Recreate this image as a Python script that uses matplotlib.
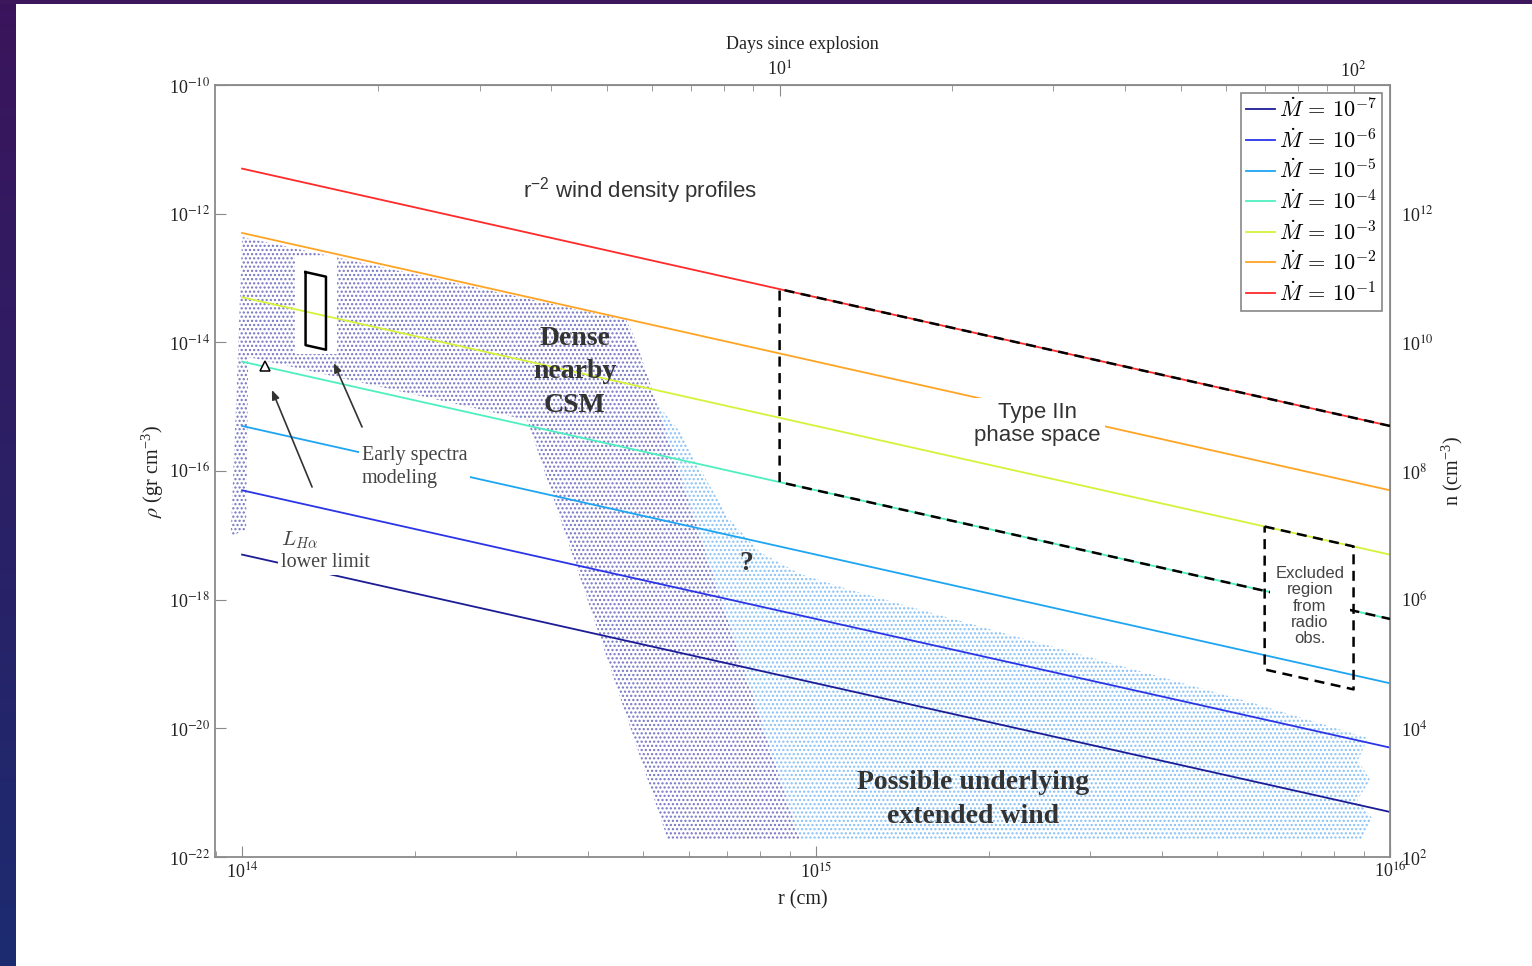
import numpy as np
import matplotlib
matplotlib.use("Agg")
import matplotlib.pyplot as plt
from matplotlib.ticker import FixedLocator, FuncFormatter, LogLocator, NullFormatter
from matplotlib.patches import Polygon

plt.rcParams["font.family"] = "serif"
plt.rcParams["font.serif"] = ["Liberation Serif", "DejaVu Serif"]
plt.rcParams["mathtext.fontset"] = "stix"
plt.rcParams["hatch.linewidth"] = 1.05

MSUN = 1.989e33
YEAR = 3.156e7
V_WIND = 1e7      # 100 km/s wind
V_EJ = 1e9        # 10^4 km/s ejecta, converts r to days
DAY = 86400.0
N_PER_RHO = 1e24  # n = rho / m_p (rounded)

# mass-loss rates (Msun/yr) of the r^-2 wind profiles
mdot = [1e-7, 1e-6, 1e-5, 1e-4, 1e-3, 1e-2, 1e-1]
mdot_exp = [-7, -6, -5, -4, -3, -2, -1]
line_colors = ["#1c1c96", "#2b35e6", "#1ea5f2", "#4ef0bf", "#d6f23a", "#ffa424", "#ff2a2a"]

# dense nearby CSM region (r [cm], rho [g cm^-3])
csm_r = [1.00e14, 4.67e14, 4.85e14, 9.38e14, 5.52e14, 3.14e14, 1.025e14, 1.016e14, 9.55e13, 9.77e13]
csm_rho = [4.34e-13, 2.22e-14, 1.09e-14, 1.84e-22, 1.84e-22, 6.19e-16, 5.92e-15, 1.21e-17, 9.75e-18, 1.27e-15]

# possible underlying extended wind region
wind_r = [5.22e14, 5.79e14, 6.41e14, 7.08e14, 7.98e14, 9.38e14, 1.15e15, 1.71e15, 2.56e15,
          3.82e15, 5.70e15, 9.16e15, 8.79e15, 9.23e15, 8.77e15, 9.31e15, 8.93e15, 9.38e14]
wind_rho = [1.27e-15, 4.04e-16, 7.78e-17, 1.73e-17, 5.51e-18, 2.51e-18, 1.41e-18, 5.19e-19, 1.90e-19,
            6.98e-20, 2.56e-20, 7.06e-21, 3.21e-21, 1.57e-21, 7.67e-22, 4.03e-22, 1.84e-22, 1.84e-22]

# early spectra modeling constraint: r range and mdot range
spec_r = [1.29e14, 1.40e14]
spec_mdot = [3.0e-4, 4.1e-3]
spec_clear_r = [1.237e14, 1.464e14]
spec_clear_rho = [6.58e-15, 2.12e-13]

# L_Halpha lower limit point
lha_r = [1.097e14]
lha_rho = [4.3e-15]

# Type IIn phase space: from day 10 onward, mdot 1e-4 .. 1e-1
iin_day = 10
iin_mdot = [1e-4, 1e-1]

# radio excluded region: days 70..100, mdot 6e-6 .. 1e-3
radio_days = [70, 100]
radio_mdot = [6e-6, 1e-3]

# tick values
rho_ticks = [1e-22, 1e-20, 1e-18, 1e-16, 1e-14, 1e-12, 1e-10]
n_ticks = [1e2, 1e4, 1e6, 1e8, 1e10, 1e12]
day_ticks = [10, 100]
day_minor = [2, 3, 4, 5, 6, 7, 8, 9, 20, 30, 40, 50, 60, 70, 80, 90]


def wind_density(md, r):
    return md * MSUN / YEAR / (4 * np.pi * r ** 2 * V_WIND)


def pow10(v, pos=None):
    return "10$^{%d}$" % int(round(np.log10(v)))


W, H = 1532, 966
fig = plt.figure(figsize=(W / 100, H / 100), dpi=100)
fig.patch.set_facecolor("white")

# slide frame behind the figure
bg = fig.add_axes([0, 0, 16 / W, 1])
grad = np.linspace(0, 1, 256)[:, None, None]
top_c = np.array([0.23, 0.08, 0.36])
bot_c = np.array([0.11, 0.17, 0.44])
bg.imshow(top_c * (1 - grad) + bot_c * grad, aspect="auto", extent=[0, 1, 0, 1])
bg.axis("off")
topbar = fig.add_axes([0, 1 - 4 / H, 1, 4 / H])
topbar.set_facecolor((0.24, 0.09, 0.36))
topbar.set_xticks([])
topbar.set_yticks([])
for s in topbar.spines.values():
    s.set_visible(False)

ax = fig.add_axes([215 / W, 1 - 857 / H, 1175 / W, 772 / H])
ax.set_xscale("log")
ax.set_yscale("log")
ax.set_xlim(8.97e13, 1e16)
ax.set_ylim(1e-22, 1e-10)

# stippled regions
ax.add_patch(Polygon(np.column_stack([wind_r, wind_rho]), closed=True, facecolor="white",
                     edgecolor="#86c0f6", lw=0, hatch="....", zorder=1))
ax.add_patch(Polygon(np.column_stack([csm_r, csm_rho]), closed=True, facecolor="white",
                     edgecolor="#7474c6", lw=0, hatch="....", zorder=1.1))
ax.fill([spec_clear_r[0], spec_clear_r[1], spec_clear_r[1], spec_clear_r[0]],
        [spec_clear_rho[0], spec_clear_rho[0], spec_clear_rho[1], spec_clear_rho[1]],
        color="white", lw=0, zorder=1.2)

# r^-2 wind profiles
r = np.logspace(14, 16, 300)
for md, ex, c in zip(mdot, mdot_exp, line_colors):
    ax.plot(r, wind_density(md, r), color=c, lw=1.3, zorder=2,
            label=r"$\dot{M}\,=\,10^{%d}$" % ex)

# Type IIn phase space box
r10 = iin_day * V_EJ * DAY
box_r = [1e16, r10, r10, 1e16]
box_rho = [wind_density(iin_mdot[1], 1e16), wind_density(iin_mdot[1], r10),
           wind_density(iin_mdot[0], r10), wind_density(iin_mdot[0], 1e16)]
ax.plot(box_r, box_rho, color="black", lw=1.8, ls=(0, (4, 2.6)), zorder=3)

# radio excluded region
ra = [d * V_EJ * DAY for d in radio_days]
rad_r = [ra[0], ra[1], ra[1], ra[0], ra[0]]
rad_rho = [wind_density(radio_mdot[1], ra[0]), wind_density(radio_mdot[1], ra[1]),
           wind_density(radio_mdot[0], ra[1]), wind_density(radio_mdot[0], ra[0]),
           wind_density(radio_mdot[1], ra[0])]
ax.plot(rad_r, rad_rho, color="black", lw=1.8, ls=(0, (4, 2.6)), zorder=3)

# early spectra box
sp_r = [spec_r[0], spec_r[1], spec_r[1], spec_r[0], spec_r[0]]
sp_rho = [wind_density(spec_mdot[1], spec_r[0]), wind_density(spec_mdot[1], spec_r[1]),
          wind_density(spec_mdot[0], spec_r[1]), wind_density(spec_mdot[0], spec_r[0]),
          wind_density(spec_mdot[1], spec_r[0])]
ax.plot(sp_r, sp_rho, color="black", lw=1.8, zorder=3)

ax.plot(lha_r, lha_rho, marker="^", ms=7, mfc="white", mec="black", mew=1.1, ls="none", zorder=3)

arrow = dict(arrowstyle="-|>,head_length=0.55,head_width=0.22", color="#333333", lw=1.2,
             shrinkA=0, shrinkB=0)
ax.annotate("", xy=(1.127e14, 1.82e-15), xytext=(1.324e14, 5.64e-17), arrowprops=arrow, zorder=4)
ax.annotate("", xy=(1.445e14, 4.77e-15), xytext=(1.618e14, 4.83e-16), arrowprops=arrow, zorder=4)

white = dict(facecolor="white", edgecolor="none", pad=2)
ax.text(1.618e14, 1.15e-16, "Early spectra\nmodeling", fontsize=14.5, color="#444444",
        ha="left", va="center", linespacing=1.27, bbox=white, zorder=5)
ax.text(1.17e14, 8.45e-18, r"$L_{H\alpha}$", fontsize=15, color="#444444", ha="left",
        va="center", math_fontfamily="cm", zorder=5)
ax.text(1.168e14, 3.72e-18, "lower limit", fontsize=14.5, color="#444444", ha="left",
        va="center", bbox=white, zorder=5)

ax.text(4.93e14, 2.25e-12, "r$^{\\mathregular{-2}}$ wind density profiles", family="Liberation Sans",
        fontsize=16, color="#333333", ha="center", va="center", zorder=5)
ax.text(3.80e14, 3.46e-15, "Dense\nnearby\nCSM", fontsize=20, fontweight="bold", color="#333333",
        ha="center", va="center", linespacing=1.45, zorder=5)
ax.text(7.55e14, 3.71e-18, "?", fontsize=20, fontweight="bold", color="#333333",
        ha="center", va="center", zorder=5)
ax.text(1.877e15, 7.9e-22, "Possible underlying\nextended wind", fontsize=20, fontweight="bold",
        color="#333333", ha="center", va="center", linespacing=1.5, zorder=5)
ax.text(2.43e15, 5.37e-16, "Type IIn\nphase space", family="Liberation Sans", fontsize=16,
        color="#333333", ha="center", va="center", linespacing=1.15,
        bbox=dict(facecolor="white", edgecolor="none", pad=3), zorder=5)
ax.text(7.25e15, 7.96e-19, "Excluded\nregion\nfrom\nradio\nobs.", family="Liberation Sans",
        fontsize=12, color="#444444", ha="center", va="center", linespacing=1.12,
        bbox=dict(facecolor="white", edgecolor="none", pad=4), zorder=5)

leg = ax.legend(loc="upper right", prop={"math_fontfamily": "cm", "size": 16},
                handlelength=1.3, handletextpad=0.15, labelspacing=0.3, borderpad=0.25,
                borderaxespad=0.35, fancybox=False, framealpha=1)
leg.get_frame().set_edgecolor("#888888")
leg.get_frame().set_linewidth(1.2)
leg.set_zorder(6)

# axes styling
spine_c = "#8a8a8a"
for s in ax.spines.values():
    s.set_color(spine_c)
    s.set_linewidth(1.3)
ax.tick_params(which="both", direction="in", colors=spine_c, labelcolor="#222222",
               labelsize=13, top=False, right=False)
ax.tick_params(which="major", length=8)
ax.tick_params(which="minor", length=4)
ax.tick_params(axis="y", which="minor", length=0)
ax.yaxis.set_major_locator(FixedLocator(rho_ticks))
ax.yaxis.set_minor_locator(FixedLocator([]))
ax.yaxis.set_major_formatter(FuncFormatter(pow10))
ax.xaxis.set_major_locator(LogLocator(base=10))
ax.xaxis.set_minor_locator(LogLocator(base=10, subs=np.arange(2, 10)))
ax.xaxis.set_major_formatter(FuncFormatter(pow10))
ax.xaxis.set_minor_formatter(NullFormatter())
ax.set_xlabel("r (cm)", fontsize=14.5, color="#222222", labelpad=6)
ax.set_ylabel(r"$\rho$ (gr cm$^{\mathregular{-3}}$)", fontsize=14.5, color="#222222", labelpad=2)

top = ax.secondary_xaxis("top", functions=(lambda x: x / (V_EJ * DAY), lambda d: d * V_EJ * DAY))
top.xaxis.set_major_locator(FixedLocator(day_ticks))
top.xaxis.set_minor_locator(FixedLocator(day_minor))
top.xaxis.set_major_formatter(FuncFormatter(pow10))
top.xaxis.set_minor_formatter(NullFormatter())
top.tick_params(which="both", direction="in", colors=spine_c, labelcolor="#222222", labelsize=13)
top.tick_params(which="major", length=8)
top.tick_params(which="minor", length=4)
top.spines["top"].set_color(spine_c)
top.set_xlabel("Days since explosion", fontsize=13, color="#222222", labelpad=8)

right = ax.secondary_yaxis("right", functions=(lambda x: x * N_PER_RHO, lambda n: n / N_PER_RHO))
right.yaxis.set_major_locator(FixedLocator(n_ticks))
right.yaxis.set_minor_locator(FixedLocator([]))
right.yaxis.set_major_formatter(FuncFormatter(pow10))
right.tick_params(which="both", length=0, labelcolor="#222222", labelsize=13, pad=8)
right.spines["right"].set_color(spine_c)
right.set_ylabel("n (cm$^{\\mathregular{-3}}$)", fontsize=14.5, color="#222222", labelpad=4)

fig.savefig("out.png", dpi=100)
